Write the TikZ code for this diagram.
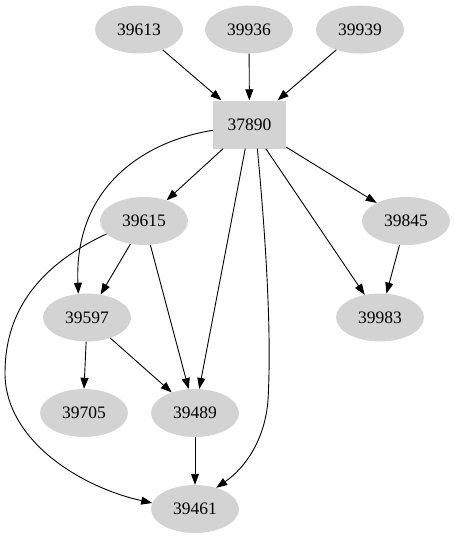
\documentclass[tikz,border=0pt]{standalone}
\usepackage{fontspec}
\setmainfont{Liberation Serif}
\usetikzlibrary{shapes.geometric,arrows.meta}
\definecolor{nodegray}{HTML}{D3D3D3}
\tikzset{
  ell/.style={ellipse,fill=nodegray,draw=none,inner sep=0pt,minimum width=88pt,minimum height=48pt,font=\fontsize{17.5}{20}\selectfont},
  boxnode/.style={rectangle,fill=nodegray,draw=none,inner sep=0pt,minimum width=73pt,minimum height=48pt,font=\fontsize{17.5}{20}\selectfont},
  edge/.style={draw=black,line width=0.9pt,-{Triangle[length=11pt,width=8pt]}}
}
\begin{document}
\begin{tikzpicture}[x=1pt,y=-1pt]
\useasboundingbox (0,0) rectangle (454,539);
\node[ell] (n39613) at (139,29.5) {39613};
\node[ell] (n39936) at (249,29.5) {39936};
\node[ell] (n39939) at (360,29.5) {39939};
\node[boxnode] (n37890) at (249.5,124.5) {37890};
\node[ell] (n39615) at (144,221) {39615};
\node[ell] (n39845) at (406,221) {39845};
\node[ell] (n39597) at (87,317.5) {39597};
\node[ell] (n39983) at (380,317.5) {39983};
\node[ell] (n39705) at (84,413) {39705};
\node[ell] (n39489) at (195,413) {39489};
\node[ell] (n39461) at (195,509) {39461};

\draw[edge] (n39613) -- (n37890);
\draw[edge] (n39936) -- (n37890);
\draw[edge] (n39939) -- (n37890);
\draw[edge] (n37890) -- (n39615);
\draw[edge] (n37890) -- (n39845);
\draw[edge] (n37890) -- (n39983);
\draw[edge] (n37890.-100) -- (n39489.80);
\draw[edge] (n39845) -- (n39983);
\draw[edge] (n39615) -- (n39597);
\draw[edge] (n39615) -- (n39489);
\draw[edge] (n39597.-92) -- (n39705.90);
\draw[edge] (n39597) -- (n39489);
\draw[edge] (n39489) -- (n39461);
\draw[edge] (n37890.189) .. controls (140,142) and (74,190) .. (n39597.110);
\draw[edge] (n39615.199) .. controls (40,265) and (5,310) .. (5,373)
  .. controls (5,440) and (80,487) .. (n39461.172);
\draw[edge] (n37890.-72) .. controls (265,230) and (272,330) .. (268,400)
  .. controls (265,440) and (245,468) .. (n39461.45);
\end{tikzpicture}
\end{document}
